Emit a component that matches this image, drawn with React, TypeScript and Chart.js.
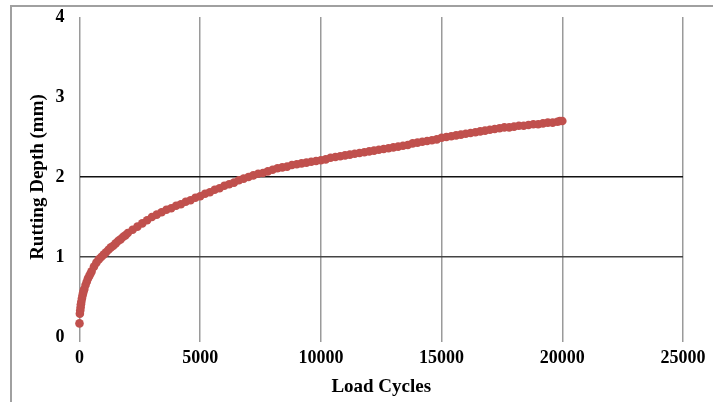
import React, { useEffect, useRef } from "react";
import { Chart, registerables } from "chart.js";

Chart.register(...registerables);

const cycles: number[] = [
  0, 15, 30, 45, 60, 75, 100, 125, 150, 175, 200, 250, 300, 350, 400, 450, 500, 600, 700, 800, 900, 1000,
  1100, 1200, 1300, 1400, 1500, 1600, 1700, 1800, 1900, 2000, 2200, 2400, 2600, 2800, 3000, 3200, 3400, 3600, 3800,
  4000, 4200, 4400, 4600, 4800, 5000, 5200, 5400, 5600, 5800, 6000, 6200, 6400, 6600,
  6800, 7000, 7200, 7400, 7600, 7800, 8000, 8200, 8400, 8600, 8800, 9000, 9200, 9400,
  9600, 9800, 10000, 10200, 10400, 10600, 10800, 11000, 11200, 11400, 11600, 11800,
  12000, 12200, 12400, 12600, 12800, 13000, 13200, 13400, 13600, 13800, 14000, 14200,
  14400, 14600, 14800, 15000, 15200, 15400, 15600, 15800, 16000, 16200, 16400, 16600,
  16800, 17000, 17200, 17400, 17600, 17800, 18000, 18200, 18400, 18600, 18800, 19000,
  19200, 19400, 19600, 19800, 19900, 20000,
];

const depths: number[] = [
  0.17, 0.29, 0.33, 0.37, 0.41, 0.44, 0.48, 0.52, 0.55, 0.58, 0.6, 0.65, 0.69, 0.73, 0.76, 0.79, 0.82, 0.88, 0.93, 0.97, 1.0, 1.03,
  1.06, 1.09, 1.12, 1.14, 1.17, 1.2, 1.22, 1.25, 1.27, 1.3, 1.34, 1.38, 1.42, 1.46, 1.5, 1.53, 1.56, 1.59, 1.61,
  1.64, 1.66, 1.69, 1.71, 1.74, 1.76, 1.79, 1.81, 1.84, 1.86, 1.89, 1.91, 1.93, 1.96,
  1.98, 2.0, 2.02, 2.04, 2.05, 2.07, 2.09, 2.11, 2.12, 2.13, 2.15, 2.16, 2.17, 2.18,
  2.19, 2.2, 2.21, 2.22, 2.24, 2.25, 2.26, 2.27, 2.28, 2.29, 2.3, 2.31,
  2.32, 2.33, 2.34, 2.35, 2.36, 2.37, 2.38, 2.39, 2.4, 2.42, 2.43, 2.44,
  2.45, 2.46, 2.47, 2.49, 2.5, 2.51, 2.52, 2.53, 2.54, 2.55, 2.56, 2.57,
  2.58, 2.59, 2.6, 2.61, 2.62, 2.62, 2.63, 2.64, 2.64, 2.65, 2.66, 2.66,
  2.67, 2.68, 2.68, 2.69, 2.7, 2.7,
];

const xTicks: number[] = [0, 5000, 10000, 15000, 20000, 25000];
const yTicks: number[] = [0, 1, 2, 3, 4];
const yGridShown: number[] = [1, 2];

const xTitle = "Load Cycles";
const yTitle = "Rutting Depth (mm)";

const FONT = "'Liberation Serif', 'Times New Roman', serif";

export default function App() {
  const ref = useRef<HTMLCanvasElement | null>(null);

  useEffect(() => {
    if (!ref.current) return;
    const points = cycles.map((c, i) => ({ x: c, y: depths[i] }));
    const chart = new Chart(ref.current, {
      type: "scatter",
      data: {
        datasets: [
          {
            data: points,
            backgroundColor: "#C0504D",
            borderColor: "#C0504D",
            borderWidth: 0,
            pointRadius: 4.3,
            showLine: false,
            clip: false as any,
          },
        ],
      },
      options: {
        animation: false,
        responsive: false,
        maintainAspectRatio: false,
        layout: { padding: { left: 27, right: 30, top: 17, bottom: 0 } },
        plugins: { legend: { display: false }, tooltip: { enabled: false } },
        scales: {
          x: {
            type: "linear",
            min: 0,
            max: 25000,
            afterBuildTicks: (s: any) => {
              s.ticks = xTicks.map((v) => ({ value: v }));
            },
            afterFit: (s: any) => {
              s.height = 65;
            },
            border: { display: false },
            grid: {
              color: "#9a9a9a",
              lineWidth: 1.5,
              drawTicks: true,
              tickLength: 5,
              tickColor: "#9a9a9a",
            },
            ticks: {
              color: "#000",
              padding: 6,
              maxRotation: 0,
              font: { family: FONT, size: 18, weight: "bold" },
              callback: (v: any) => String(v),
            },
            title: {
              display: true,
              text: xTitle,
              color: "#000",
              font: { family: FONT, size: 19, weight: "bold" },
              padding: { top: 0, bottom: 4 },
            },
          },
          y: {
            type: "linear",
            min: 0,
            max: 4,
            afterBuildTicks: (s: any) => {
              s.ticks = yTicks.map((v) => ({ value: v }));
            },
            afterFit: (s: any) => {
              s.width = 52.5;
            },
            border: { display: false },
            grid: {
              drawTicks: true,
              tickLength: 13,
              tickColor: "rgba(0,0,0,0)",
              color: (ctx: any) =>
                ctx.tick && yGridShown.includes(ctx.tick.value)
                  ? ctx.tick.value === 2
                    ? "#111"
                    : "#444"
                  : "rgba(0,0,0,0)",
              lineWidth: 1.5,
            },
            ticks: {
              color: "#000",
              padding: 2,
              font: { family: FONT, size: 18, weight: "bold" },
              callback: (v: any) => String(v),
            },
            title: {
              display: true,
              text: yTitle,
              color: "#000",
              font: { family: FONT, size: 19, weight: "bold" },
              padding: { top: 0, bottom: 0 },
            },
          },
        },
      },
    });
    return () => chart.destroy();
  }, []);

  return (
    <div
      style={{
        position: "absolute",
        left: 0,
        top: 0,
        width: 713,
        height: 402,
        overflow: "hidden",
        background: "#fff",
      }}
    >
      <div
        style={{
          position: "absolute",
          left: 10,
          top: 5,
          width: 740,
          height: 440,
          border: "2px solid #a0a0a0",
          boxSizing: "border-box",
        }}
      />
      <canvas
        ref={ref}
        width={713}
        height={402}
        style={{ position: "absolute", left: 0, top: 0, width: 713, height: 402 }}
      />
    </div>
  );
}
